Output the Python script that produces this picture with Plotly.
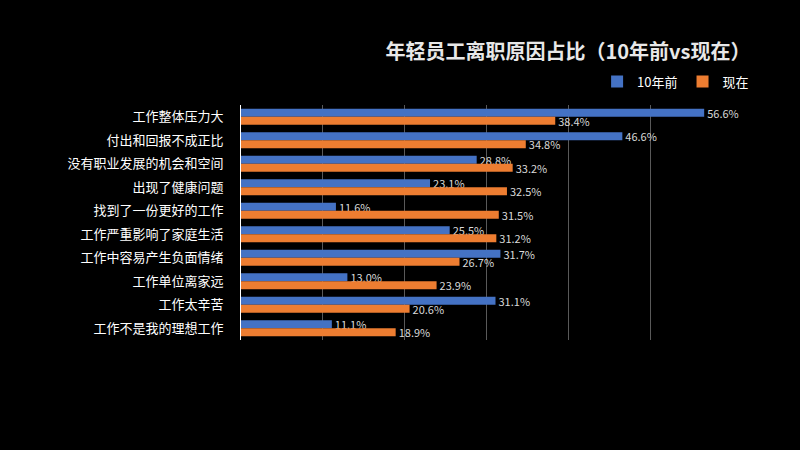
import plotly.graph_objects as go

reasons = ["工作整体压力大", "付出和回报不成正比", "没有职业发展的机会和空间", "出现了健康问题",
           "找到了一份更好的工作", "工作严重影响了家庭生活", "工作中容易产生负面情绪",
           "工作单位离家远", "工作太辛苦", "工作不是我的理想工作"]
before_10y = [56.6, 46.6, 28.8, 23.1, 11.6, 25.5, 31.7, 13.0, 31.1, 11.1]
now = [38.4, 34.8, 33.2, 32.5, 31.5, 31.2, 26.7, 23.9, 20.6, 18.9]

font_cn = "Noto Sans CJK SC"

fig = go.Figure()
fig.add_trace(go.Bar(
    y=reasons, x=before_10y, name="10年前", orientation="h",
    marker=dict(color="#4472C4", line=dict(width=0)),
    text=[f"{v:.1f}%" for v in before_10y], textposition="outside", constraintext="none",
    textfont=dict(color="#d9d9d9", size=11), cliponaxis=False,
))
fig.add_trace(go.Bar(
    y=reasons, x=now, name="现在", orientation="h",
    marker=dict(color="#ED7D31", line=dict(width=0)),
    text=[f"{v:.1f}%" for v in now], textposition="outside", constraintext="none",
    textfont=dict(color="#d9d9d9", size=11), cliponaxis=False,
))

fig.update_layout(
    width=800, height=450,
    paper_bgcolor="black", plot_bgcolor="black",
    font=dict(family=font_cn, color="white", size=13),
    barmode="group", bargap=0.32, bargroupgap=0,
    margin=dict(l=241, r=68, t=105, b=110),
    title=dict(text="<b>年轻员工离职原因占比（10年前vs现在）</b>",
               x=0.71, xanchor="center", y=0.885, yanchor="middle",
               font=dict(size=20, color="#e8e8e8")),
    legend=dict(orientation="h", x=1.045, xanchor="right", y=1.1, yanchor="middle",
                font=dict(size=13, color="white"), bgcolor="rgba(0,0,0,0)",
                itemwidth=30, traceorder="normal"),
    showlegend=True,
)
fig.update_xaxes(range=[0, 60], dtick=10, showticklabels=False,
                 showgrid=True, gridcolor="#595959", gridwidth=1, zeroline=False)
fig.update_yaxes(autorange="reversed", showline=True, linecolor="white", linewidth=1,
                 ticks="", ticklabelstandoff=14, tickfont=dict(size=13, color="white"),
                 showgrid=False)

fig.write_html("out.html", config={"displayModeBar": False},
               post_script="document.body.style.margin='0';")
